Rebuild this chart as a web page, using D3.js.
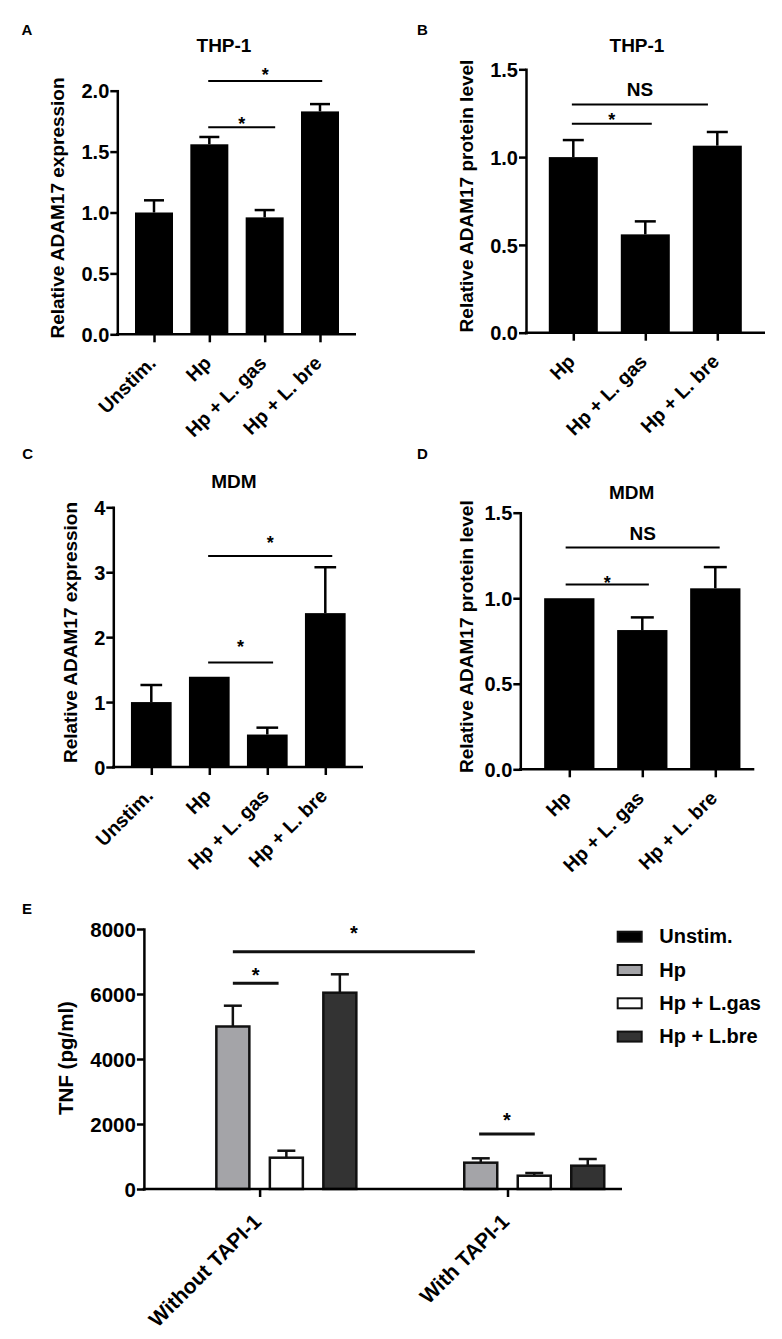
<!DOCTYPE html>
<html><head><meta charset="utf-8">
<script src="https://cdn.jsdelivr.net/npm/d3@7"></script>
<style>
body{margin:0;background:#fff}
svg{display:block}
text{font-family:"Liberation Sans",Arial,Helvetica,sans-serif;font-weight:bold;fill:#000}
</style>
</head><body>
<svg id="c" width="782" height="1339"></svg>
<script>
// ---------- DATA ----------
const catsA = ["Unstim.", "Hp", "Hp + L. gas", "Hp + L. bre"];
const valsA = [1.00, 1.56, 0.96, 1.83];
const errA  = [0.10, 0.06, 0.06, 0.06];
const ticksA = [0, 0.5, 1.0, 1.5, 2.0];

const catsB = ["Hp", "Hp + L. gas", "Hp + L. bre"];
const valsB = [1.00, 0.56, 1.065];
const errB  = [0.097, 0.074, 0.078];
const ticksB = [0, 0.5, 1.0, 1.5];

const catsC = ["Unstim.", "Hp", "Hp + L. gas", "Hp + L. bre"];
const valsC = [1.00, 1.39, 0.50, 2.37];
const errC  = [0.263, 0, 0.106, 0.707];
const ticksC = [0, 1, 2, 3, 4];

const catsD = ["Hp", "Hp + L. gas", "Hp + L. bre"];
const valsD = [1.00, 0.814, 1.058];
const errD  = [0, 0.074, 0.124];
const ticksD = [0, 0.5, 1.0, 1.5];

const groupsE = ["Without TAPI-1", "With TAPI-1"];
const seriesE = ["Unstim.", "Hp", "Hp + L.gas", "Hp + L.bre"];
const unstimE = [0, 0];
const hpE     = [5000, 810];
const gasE    = [963, 409];
const breE    = [6040, 717];
const unstimErrE = [0, 0];
const hpErrE  = [640, 134];
const gasErrE = [215, 83];
const breErrE = [566, 206];
const ticksE = [0, 2000, 4000, 6000, 8000];

// significance annotations: [fromIndex, toIndex, lineValue, label, labelValue]
const sigA = [[0.98, 3.04, 2.08, "*", 2.17], [0.98, 2.19, 1.70, "*", 1.77]];
const sigB = [[-0.02, 1.87, 1.30, "NS", 1.386], [-0.02, 1.09, 1.19, "*", 1.24]];
const sigC = [[0.98, 3.12, 3.25, "*", 3.52], [0.98, 2.10, 1.61, "*", 1.915]];
const sigD = [[-0.05, 2.06, 1.297, "NS", 1.379], [-0.05, 1.09, 1.081, "*", 1.116]];
// E: [group, seriesPos, group, seriesPos, lineValue, label, labelValue]
const sigE = [[0, 1.0, 1, 0.89, 7300, "*", 8046],
              [0, 1.0, 0, 1.855, 6330, "*", 6738],
              [1, 0.97, 1, 2.01, 1692, "*", 2262]];

// ---------- DRAW ----------
const svg = d3.select("#c");
const AX = 2.5;

function styleAxis(g) {
  g.selectAll("path,line").attr("stroke", "#000").attr("stroke-width", AX);
  g.select(".domain").attr("stroke-linecap", "square");
}

function panel(o) {
  const g = svg.append("g");
  const y = d3.scaleLinear().domain([0, o.yMax]).range([o.y0, o.y1]);
  const x = d3.scalePoint().domain(o.cats).range([o.xFirst, o.xLast]);
  const step = x.step();
  const xi = i => o.xFirst + i * step;

  g.append("text").attr("x", o.letter[0]).attr("y", o.letter[1]).attr("font-size", 15).text(o.letterText);
  g.append("text").attr("x", o.title[0]).attr("y", o.title[1]).attr("text-anchor", "middle")
    .attr("font-size", 19).text(o.titleText);

  g.selectAll("rect.bar").data(o.vals).join("rect").attr("class", "bar")
    .attr("x", (d, i) => x(o.cats[i]) - o.bw / 2).attr("width", o.bw)
    .attr("y", d => y(d)).attr("height", d => o.y0 - y(d)).attr("fill", "#000");

  o.vals.forEach((v, i) => {
    const e = o.errs[i]; if (!e) return;
    const cx = x(o.cats[i]);
    g.append("line").attr("x1", cx).attr("x2", cx).attr("y1", y(v)).attr("y2", y(v + e))
      .attr("stroke", "#000").attr("stroke-width", AX);
    g.append("line").attr("x1", cx - o.cap / 2).attr("x2", cx + o.cap / 2).attr("y1", y(v + e)).attr("y2", y(v + e))
      .attr("stroke", "#000").attr("stroke-width", AX);
  });

  const yg = g.append("g").attr("transform", `translate(${o.ax},0)`)
    .call(d3.axisLeft(y).tickValues(o.yTicks).tickFormat(o.fmt).tickSize(7).tickSizeOuter(0).tickPadding(1));
  styleAxis(yg);
  yg.selectAll("text").attr("font-size", 20).attr("font-family", null).attr("fill", "#000").attr("dy", "0.36em");

  const xg = g.append("g").attr("transform", `translate(0,${o.y0})`)
    .call(d3.axisBottom(x).tickSize(8).tickSizeOuter(0).tickFormat(""));
  xg.select(".domain").remove();
  xg.append("line").attr("x1", o.ax - AX / 2).attr("x2", o.axEnd).attr("y1", 0).attr("y2", 0);
  styleAxis(xg);
  o.cats.forEach(c => {
    g.append("text").attr("text-anchor", "end").attr("font-size", 19.5)
      .attr("transform", `translate(${x(c) + 3},${o.y0 + 30}) rotate(-45)`).text(c);
  });

  g.append("text").attr("text-anchor", "middle").attr("font-size", 19)
    .attr("transform", `translate(${o.ylab[0]},${o.ylab[1]}) rotate(-90)`).text(o.ylabText);

  o.sig.forEach(s => {
    const [a, b, lv, lab, labv] = s;
    g.append("line").attr("x1", xi(a)).attr("x2", xi(b)).attr("y1", y(lv)).attr("y2", y(lv))
      .attr("stroke", "#000").attr("stroke-width", 2);
    g.append("text").attr("text-anchor", "middle").attr("font-size", lab === "*" ? 18 : 19)
      .attr("x", (xi(a) + xi(b)) / 2).attr("y", y(labv))
      .attr("dy", lab === "*" ? "0.6em" : "0.36em").text(lab);
  });
}

const fmt1 = d3.format(".1f");
panel({cats: catsA, vals: valsA, errs: errA, yMax: 2.0, yTicks: ticksA, fmt: fmt1,
  y0: 334.3, y1: 90.7, ax: 117.3, axEnd: 356, xFirst: 154, xLast: 320, bw: 38, cap: 20,
  letter: [21.5, 35], letterText: "A", title: [224, 52], titleText: "THP-1",
  ylab: [63.7, 208], ylabText: "Relative ADAM17 expression", sig: sigA});
panel({cats: catsB, vals: valsB, errs: errB, yMax: 1.5, yTicks: ticksB, fmt: fmt1,
  y0: 332.7, y1: 69.3, ax: 526, axEnd: 765, xFirst: 573.3, xLast: 717.3, bw: 49, cap: 21,
  letter: [417, 34.5], letterText: "B", title: [637, 52], titleText: "THP-1",
  ylab: [473, 196], ylabText: "Relative ADAM17 protein level", sig: sigB});
panel({cats: catsC, vals: valsC, errs: errC, yMax: 4, yTicks: ticksC, fmt: d3.format("d"),
  y0: 767, y1: 507.3, ax: 113.3, axEnd: 363, xFirst: 151.3, xLast: 325.3, bw: 40.7, cap: 21.7,
  letter: [22.3, 459.3], letterText: "C", title: [234, 487.7], titleText: "MDM",
  ylab: [77, 632.5], ylabText: "Relative ADAM17 expression", sig: sigC});
panel({cats: catsD, vals: valsD, errs: errD, yMax: 1.5, yTicks: ticksD, fmt: fmt1,
  y0: 769.3, y1: 512.7, ax: 520.3, axEnd: 754.3, xFirst: 569.3, xLast: 715.3, bw: 50.3, cap: 23,
  letter: [417, 459.3], letterText: "D", title: [631.7, 499.3], titleText: "MDM",
  ylab: [473, 636.7], ylabText: "Relative ADAM17 protein level", sig: sigD});

// ---------- PANEL E ----------
(function () {
  const g = svg.append("g");
  const y0 = 1189, y1 = 929, ax = 143.9, axEnd = 622;
  const y = d3.scaleLinear().domain([0, 8000]).range([y0, y1]);
  const x0 = d3.scalePoint().domain(groupsE).range([259.6, 507.5]);
  const inner = d3.scalePoint().domain(seriesE).range([-80.25, 80.25]);
  const innerStep = inner.step();
  const fills = ["#000000", "#a4a4a8", "#ffffff", "#333333"];
  const vals = [unstimE, hpE, gasE, breE];
  const errs = [unstimErrE, hpErrE, gasErrE, breErrE];
  const bw = 33, cap = 18;
  const pos = (gi, si) => x0(groupsE[gi]) + inner(seriesE[0]) + si * innerStep;

  g.append("text").attr("x", 22).attr("y", 914).attr("font-size", 15).text("E");

  groupsE.forEach((grp, gi) => {
    seriesE.forEach((s, si) => {
      const v = vals[si][gi]; if (!v) return;
      const cx = x0(grp) + inner(s);
      const e = errs[si][gi];
      if (e) {
        g.append("line").attr("x1", cx).attr("x2", cx).attr("y1", y(v)).attr("y2", y(v + e))
          .attr("stroke", "#111").attr("stroke-width", 2.5);
        g.append("line").attr("x1", cx - cap / 2).attr("x2", cx + cap / 2).attr("y1", y(v + e)).attr("y2", y(v + e))
          .attr("stroke", "#111").attr("stroke-width", 2.5);
      }
      g.append("rect").attr("x", cx - bw / 2).attr("width", bw).attr("y", y(v)).attr("height", y0 - y(v))
        .attr("fill", fills[si]).attr("stroke", "#111").attr("stroke-width", 2.5);
    });
  });

  const yg = g.append("g").attr("transform", `translate(${ax},0)`)
    .call(d3.axisLeft(y).tickValues(ticksE).tickFormat(d3.format("d")).tickSize(7).tickSizeOuter(0).tickPadding(1));
  styleAxis(yg);
  yg.selectAll("text").attr("font-size", 20.5).attr("font-family", null).attr("fill", "#000").attr("dy", "0.36em");

  const xg = g.append("g").attr("transform", `translate(0,${y0})`)
    .call(d3.axisBottom(x0).tickSize(8).tickSizeOuter(0).tickFormat(""));
  xg.select(".domain").remove();
  xg.append("line").attr("x1", ax - 1.25).attr("x2", axEnd).attr("y1", 0).attr("y2", 0);
  styleAxis(xg);
  groupsE.forEach(c => {
    g.append("text").attr("text-anchor", "end").attr("font-size", 21)
      .attr("transform", `translate(${x0(c) + 3},${y0 + 34}) rotate(-45)`).text(c);
  });

  g.append("text").attr("text-anchor", "middle").attr("font-size", 20.5)
    .attr("transform", `translate(73.3,1058) rotate(-90)`).text("TNF (pg/ml)");

  sigE.forEach(s => {
    const [ga, sa, gb, sb, lv, lab, labv] = s;
    const xa = pos(ga, sa), xb = pos(gb, sb);
    g.append("line").attr("x1", xa).attr("x2", xb).attr("y1", y(lv)).attr("y2", y(lv))
      .attr("stroke", "#111").attr("stroke-width", 3);
    g.append("text").attr("text-anchor", "middle").attr("font-size", 20)
      .attr("x", (xa + xb) / 2).attr("y", y(labv)).attr("dy", "0.6em").text(lab);
  });

  const lg = g.append("g");
  seriesE.forEach((s, i) => {
    const yy = 930.7 + i * 33.3;
    lg.append("rect").attr("x", 617.7).attr("y", yy + 1).attr("width", 24).attr("height", 10)
      .attr("fill", fills[i]).attr("stroke", "#111").attr("stroke-width", 2);
    lg.append("text").attr("x", 659.3).attr("y", yy + 12.6).attr("font-size", 20).text(s);
  });
})();
</script>
</body></html>
